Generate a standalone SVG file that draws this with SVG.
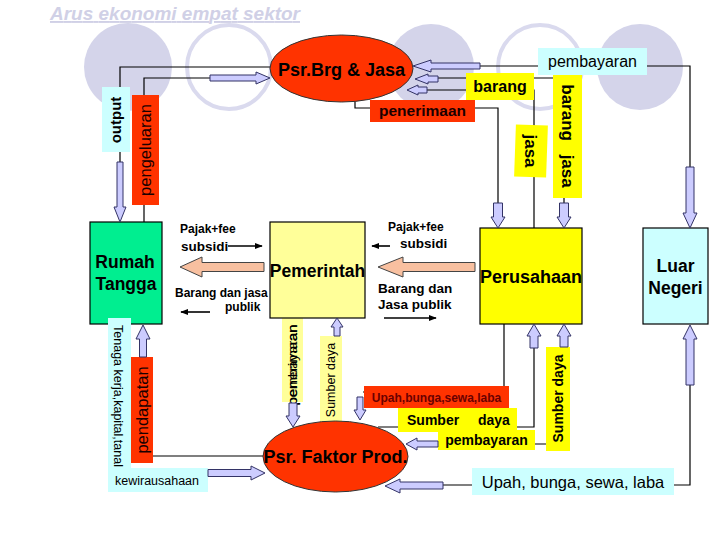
<svg xmlns="http://www.w3.org/2000/svg" width="720" height="540" viewBox="0 0 720 540">
<style>
.t{font-family:"Liberation Sans",Arial,sans-serif}
.b{font-weight:bold}
.ln{fill:none;stroke:#000;stroke-width:1.2}
.sl{fill:none;stroke:#000;stroke-width:1.6}
.la{fill:#ccccff;stroke:#333366;stroke-width:1}
.sa{fill:#f8c0a0;stroke:#444;stroke-width:1}
.cf{fill:#d4d4ea}
.co{fill:none;stroke:#dadaee;stroke-width:4}
.red{fill:#ff3300}
.cy{fill:#ccffff}
.ye{fill:#ffff00}
.ly{fill:#ffff99}
.node{stroke:#000;stroke-width:1.2}
</style>
<defs>
<marker id="ah" viewBox="0 0 10 10" refX="9" refY="5" markerWidth="5" markerHeight="5" orient="auto">
<path d="M0,1 L10,5 L0,9 z" fill="#000"/>
</marker>
</defs>
<rect width="720" height="540" fill="#fff"/>
<g id="background">
<circle class="cf" cx="128" cy="67" r="44"/>
<circle class="co" cx="229" cy="67" r="42"/>
<circle class="cf" cx="431" cy="67" r="43"/>
<circle class="co" cx="540" cy="67" r="42"/>
<circle class="cf" cx="640" cy="67" r="43"/>
<text class="t b" x="50" y="20" font-size="19" font-style="italic" fill="#d0d0e6" text-decoration="underline" textLength="250">Arus ekonomi empat sektor</text>
</g>
<g id="connectors">
<path class="ln" d="M270,67 H120 V162"/>
<path class="ln" d="M144,222 V78 H210"/>
<path class="ln" d="M480,66 H690 V167"/>
<path class="ln" d="M438,78 H564 V203"/>
<path class="ln" d="M427,90 H534 V228"/>
<path class="ln" d="M355,101 V108 H498 V203"/>
<path class="ln" d="M504,324 V392 H363"/>
<path class="ln" d="M534,348 V427 H378"/>
<path class="ln" d="M564,347 V444 H438"/>
<path class="ln" d="M690,385 V485 H443"/>
<path class="ln" d="M153,456 H263"/>
<path class="ln" d="M337,336 V422"/>
<path class="sl" d="M228,246 H262" marker-end="url(#ah)"/>
<path class="sl" d="M210,312 H181" marker-end="url(#ah)"/>
<path class="sl" d="M390,246 H372" marker-end="url(#ah)"/>
<path class="sl" d="M384,318 H436" marker-end="url(#ah)"/>
<path class="sl" d="M564,257 H499" marker-end="url(#ah)"/>
</g>
<g id="labels">
<rect class="cy" x="538" y="48" width="109" height="27"/>
<text class="t" x="592.5" y="67" font-size="16" text-anchor="middle">pembayaran</text>
<rect class="ye" x="466" y="73" width="68" height="27"/>
<text class="t b" x="500" y="92" font-size="16" text-anchor="middle">barang</text>
<rect class="red" x="370" y="100" width="105" height="22"/>
<text class="t b" x="422.5" y="116" font-size="15.5" text-anchor="middle" fill="#1a0000">penerimaan</text>
<rect class="ye" x="553" y="75" width="29" height="123"/>
<text class="t b" font-size="17" text-anchor="middle" word-spacing="9" transform="translate(567.5,136) rotate(90)" dy="0.35em">barang jasa</text>
<rect class="ye" x="515" y="125" width="32" height="52" transform="rotate(2 531 151)"/>
<text class="t b" font-size="17" text-anchor="middle" transform="translate(531,151) rotate(90)" dy="0.35em">jasa</text>
<rect class="cy" x="102" y="87" width="28" height="65"/>
<text class="t b" font-size="15" text-anchor="middle" transform="translate(116,120) rotate(-90)" dy="0.35em">output</text>
<rect class="red" x="132" y="95" width="27" height="110"/>
<text class="t" font-size="16.5" text-anchor="middle" fill="#1a0000" transform="translate(145.5,150) rotate(-90)" dy="0.35em">pengeluaran</text>
<text class="t b" x="180" y="233" font-size="12">Pajak+fee</text>
<text class="t b" x="181" y="251" font-size="13.5">subsidi</text>
<text class="t b" x="175" y="297" font-size="12">Barang dan jasa</text>
<text class="t b" x="225" y="311" font-size="12">publik</text>
<text class="t b" x="388" y="231" font-size="12">Pajak+fee</text>
<text class="t b" x="400" y="248" font-size="13.5">subsidi</text>
<text class="t b" x="378" y="293" font-size="13.5">Barang dan</text>
<text class="t b" x="378" y="309" font-size="13.5">Jasa publik</text>
<rect class="ly" x="282" y="318" width="21" height="84"/>
<text class="t" font-size="12" text-anchor="middle" textLength="81" lengthAdjust="spacingAndGlyphs" transform="translate(292.5,365) rotate(-90)" dy="0.35em">pembayaran</text>
<text class="t" font-size="12" text-anchor="middle" textLength="81" lengthAdjust="spacingAndGlyphs" transform="translate(292.5,365) rotate(-90)" dy="0.35em">penerimaan</text>
<rect class="ly" x="320" y="336" width="22" height="90"/>
<text class="t" font-size="12.5" text-anchor="middle" transform="translate(331,380) rotate(-90)" dy="0.35em">Sumber daya</text>
<rect class="red" x="364" y="386" width="145" height="22"/>
<text class="t b" x="436.5" y="402" font-size="12" text-anchor="middle" fill="#6a0000">Upah,bunga,sewa,laba</text>
<rect class="ye" x="398" y="408" width="119" height="24"/>
<text class="t b" x="407" y="425" font-size="14">Sumber</text>
<text class="t b" x="478" y="425" font-size="14">daya</text>
<rect class="ye" x="438" y="430" width="97" height="20"/>
<text class="t b" x="486.5" y="445" font-size="14" text-anchor="middle">pembayaran</text>
<rect class="ye" x="546" y="347" width="24" height="104"/>
<text class="t b" font-size="14" text-anchor="middle" transform="translate(558,398.5) rotate(-90)" dy="0.35em">Sumber daya</text>
<rect class="cy" x="472" y="468" width="202" height="27"/>
<text class="t" x="573" y="488" font-size="16.5" text-anchor="middle">Upah, bunga, sewa, laba</text>
</g>
<g id="rumah-tangga">
<rect x="90" y="222" width="72" height="102" fill="#00ee90" class="node"/>
<text class="t b" x="125" y="268" font-size="17.5" text-anchor="middle">Rumah</text>
<text class="t b" x="126" y="290" font-size="17.5" text-anchor="middle">Tangga</text>
</g>
<g id="left-labels">
<path class="cy" d="M108,318 H131 V468 H208 V492 H108 Z"/>
<text class="t" font-size="12" textLength="142" lengthAdjust="spacingAndGlyphs" transform="translate(114,325) rotate(90)" dy="0">Tenaga kerja,kapital,tanal</text>
<text class="t" x="115" y="485" font-size="12.5" textLength="84" lengthAdjust="spacingAndGlyphs">kewirausahaan</text>
<rect class="red" x="131" y="357" width="22" height="106"/>
<text class="t" font-size="16.5" text-anchor="middle" fill="#1a0000" transform="translate(142,410) rotate(-90)" dy="0.35em">pendapatan</text>
</g>
<g id="pemerintah">
<rect x="270" y="222" width="95" height="96" class="ly node"/>
<text class="t b" x="317.5" y="277" font-size="17.5" text-anchor="middle">Pemerintah</text>
</g>
<g id="perusahaan">
<rect x="480" y="228" width="102" height="96" class="ye node"/>
<text class="t b" x="531" y="283" font-size="18" text-anchor="middle">Perusahaan</text>
</g>
<g id="luar-negeri">
<rect x="643" y="228" width="65" height="96" class="cy node"/>
<text class="t b" x="675.5" y="272" font-size="17.5" text-anchor="middle">Luar</text>
<text class="t b" x="675.5" y="294" font-size="17.5" text-anchor="middle">Negeri</text>
</g>
<g id="psr-brg-jasa">
<ellipse cx="341.5" cy="68.5" rx="71.5" ry="33.5" class="red" stroke="#333" stroke-width="1"/>
<text class="t b" x="341.5" y="76" font-size="18" text-anchor="middle">Psr.Brg &amp; Jasa</text>
</g>
<g id="psr-faktor-prod">
<ellipse cx="335.5" cy="456.5" rx="72.5" ry="35.5" class="red" stroke="#333" stroke-width="1"/>
<text class="t b" x="335.5" y="463" font-size="18" text-anchor="middle">Psr. Faktor Prod.</text>
</g>
<g id="block-arrows">
<polygon class="sa" points="180,267 202,257 202,262.5 264,262.5 264,271.5 202,271.5 202,277"/>
<polygon class="sa" points="378,267 403,257 403,262.5 475,262.5 475,271.5 403,271.5 403,277"/>
<polygon class="la" points="413,66 431,60 431,63 480,63 480,69 431,69 431,72"/>
<polygon class="la" points="415,79 428,74 428,76 438,76 438,82 428,82 428,84"/>
<polygon class="la" points="407,90 418,85 418,87 427,87 427,93 418,93 418,95"/>
<polygon class="la" points="270,78 256,72 256,75 210,75 210,81 256,81 256,84"/>
<polygon class="la" points="120,222 114,207 117,207 117,162 123,162 123,207 126,207"/>
<polygon class="la" points="498,228 491,217 493.5,217 493.5,203 502.5,203 502.5,217 505,217"/>
<polygon class="la" points="564,228 557,217 559.5,217 559.5,203 568.5,203 568.5,217 571,217"/>
<polygon class="la" points="690,228 683,213 686,213 686,167 694,167 694,213 697,213"/>
<polygon class="la" points="534,324 527,336 530,336 530,348 538,348 538,336 541,336"/>
<polygon class="la" points="564,324 557,336 560,336 560,347 568,347 568,336 571,336"/>
<polygon class="la" points="690,325 683,339 686,339 686,385 694,385 694,339 697,339"/>
<polygon class="la" points="337,318 331,327 334,327 334,336 340,336 340,327 343,327"/>
<polygon class="la" points="293,427 286,416 289,416 289,403 297,403 297,416 300,416"/>
<polygon class="la" points="360,420 354,410 357,410 357,397 363,397 363,410 366,410"/>
<polygon class="la" points="143,325 136,339 139.5,339 139.5,357 146.5,357 146.5,339 150,339"/>
<polygon class="la" points="265,473 251,466 251,469.5 208,469.5 208,476.5 251,476.5 251,480"/>
<polygon class="la" points="406,444 417,438 417,441 438,441 438,447 417,447 417,450"/>
<polygon class="la" points="385,486 400,479 400,482 443,482 443,489 400,489 400,493"/>
</g>
</svg>
